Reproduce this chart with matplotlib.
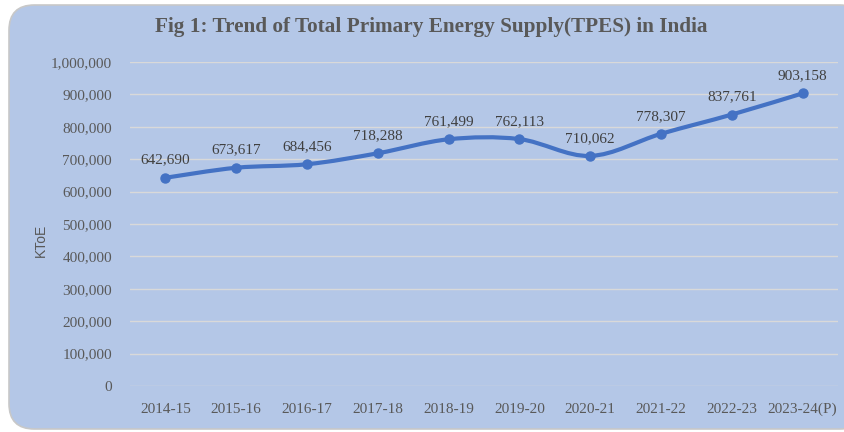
import matplotlib
matplotlib.use("Agg")
import matplotlib.pyplot as plt
from matplotlib.path import Path
from matplotlib.patches import PathPatch, FancyBboxPatch
from matplotlib.ticker import FuncFormatter, MultipleLocator
import numpy as np

years = ["2014-15", "2015-16", "2016-17", "2017-18", "2018-19",
         "2019-20", "2020-21", "2021-22", "2022-23", "2023-24(P)"]
tpes = [642690, 673617, 684456, 718288, 761499,
        762113, 710062, 778307, 837761, 903158]
title = "Fig 1: Trend of Total Primary Energy Supply(TPES) in India"
ylabel = "KToE"

W, H = 845, 432
fig = plt.figure(figsize=(W / 100, H / 100), dpi=100)
fig.patch.set_facecolor("white")

bg = "#B4C7E7"
card = FancyBboxPatch((9 / W, 3 / H), (W + 20 - 9) / W, (H - 8) / H,
                      boxstyle="round,pad=0,rounding_size=0.03",
                      transform=fig.transFigure, facecolor=bg,
                      edgecolor="#C8C8C8", linewidth=1.2, zorder=-10,
                      mutation_aspect=W / H)
fig.patches.append(card)

ax = fig.add_axes([130 / W, (H - 386) / H, (838 - 130) / W, (386 - 62) / H])
ax.set_facecolor("none")
ax.set_zorder(1)

x = np.arange(len(years))
y = np.array(tpes, dtype=float)

# smoothed line (Catmull-Rom -> cubic Bezier), like Excel's smoothed line
verts = [(x[0], y[0])]
codes = [Path.MOVETO]
n = len(x)
for i in range(n - 1):
    p0 = np.array([x[max(i - 1, 0)], y[max(i - 1, 0)]])
    p1 = np.array([x[i], y[i]])
    p2 = np.array([x[i + 1], y[i + 1]])
    p3 = np.array([x[min(i + 2, n - 1)], y[min(i + 2, n - 1)]])
    c1 = p1 + (p2 - p0) / 6
    c2 = p2 - (p3 - p1) / 6
    verts += [tuple(c1), tuple(c2), tuple(p2)]
    codes += [Path.CURVE4] * 3
ax.add_patch(PathPatch(Path(verts, codes), facecolor="none",
                       edgecolor="#4472C4", linewidth=3, zorder=3,
                       capstyle="round", joinstyle="round"))
ax.plot(x, y, linestyle="none", marker="o", markersize=6.5,
        color="#4472C4", zorder=4)

serif = ["Liberation Serif", "DejaVu Serif"]
for xi, yi in zip(x, y):
    ax.annotate(f"{int(yi):,}", (xi, yi), xytext=(0, 8),
                textcoords="offset points", ha="center", va="bottom",
                fontsize=11, color="#404040", family=serif, zorder=5)

ax.set_xlim(-0.5, n - 0.5)
ax.set_ylim(0, 1000000)
ax.yaxis.set_major_locator(MultipleLocator(100000))
ax.yaxis.set_major_formatter(FuncFormatter(lambda v, p: f"{int(v):,}"))
ax.set_xticks(x)
ax.set_xticklabels(years)
ax.grid(axis="y", color="#D9D9D9", linewidth=1)
ax.set_axisbelow(True)
for s in ax.spines.values():
    s.set_visible(False)
ax.tick_params(axis="both", length=0, colors="#595959", labelsize=11)
ax.tick_params(axis="y", pad=13)
ax.tick_params(axis="x", pad=12)
for lbl in ax.get_xticklabels() + ax.get_yticklabels():
    lbl.set_family(serif)
    lbl.set_color("#595959")

fig.text(41 / W, (H - 240) / H, ylabel, rotation=90, ha="center",
         va="center", fontsize=10, color="#595959",
         family=["Liberation Sans", "DejaVu Sans"])
fig.text(431 / W, (H - 27) / H, title, ha="center", va="center",
         fontsize=15.3, fontweight="bold", color="#595959", family=serif)

fig.savefig("out.png", dpi=100, facecolor=fig.get_facecolor())
